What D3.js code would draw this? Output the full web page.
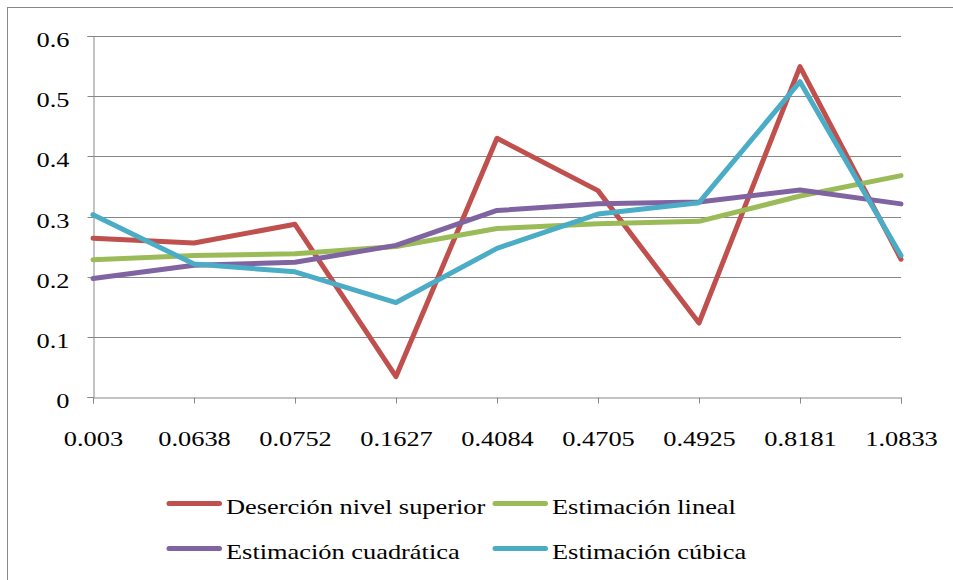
<!DOCTYPE html>
<html>
<head>
<meta charset="utf-8">
<script src="https://cdn.jsdelivr.net/npm/d3@7"></script>
</head>
<body style="margin:0">
<svg id="fig"></svg>
<script>
// categories on the x axis
const categories = ['0.003', '0.0638', '0.0752', '0.1627', '0.4084', '0.4705', '0.4925', '0.8181', '1.0833']

// series values
const desercion = [0.264, 0.256, 0.287, 0.034, 0.430, 0.343, 0.123, 0.549, 0.229]
const lineal = [0.228, 0.235, 0.238, 0.250, 0.280, 0.288, 0.292, 0.334, 0.368]
const cuadratica = [0.197, 0.219, 0.224, 0.252, 0.310, 0.321, 0.324, 0.344, 0.321]
const cubica = [0.303, 0.221, 0.208, 0.157, 0.247, 0.304, 0.323, 0.524, 0.235]

const seriesNames = ['Deserción nivel superior', 'Estimación lineal', 'Estimación cuadrática', 'Estimación cúbica']
const yTicks = [0, 0.1, 0.2, 0.3, 0.4, 0.5, 0.6]

const colors = ['#C0504D', '#9BBB59', '#8064A2', '#4BACC6']

const series = [desercion, lineal, cuadratica, cubica].map((values, i) => ({
    name: seriesNames[i],
    values: values
}))

const svgWidth = 953
const svgHeight = 580

// text set at 30px and scaled to ~22px, a bit wider than tall like the original
const baseSize = 30
const sx = 1.2 * 22 / baseSize
const sy = 22 / baseSize

const svg = d3.select('#fig')
    .attr('width', svgWidth)
    .attr('height', svgHeight)

// outer chart border
svg.append('rect')
    .attr('x', 7.5)
    .attr('y', 7.5)
    .attr('width', 960)
    .attr('height', 600)
    .attr('fill', 'white')
    .attr('stroke', '#888')
    .attr('stroke-width', 1)

// plot area
const plotLeft = 93, plotRight = 901, plotTop = 36, plotBottom = 397

const x = d3.scalePoint()
    .domain(categories)
    .range([plotLeft, plotRight])
    .padding(0)

const y = d3.scaleLinear()
    .domain([0, 0.6])
    .range([plotBottom, plotTop])

// horizontal gridlines
svg.append('g')
    .selectAll('line')
    .data(yTicks.filter(d => d > 0))
    .join('line')
    .attr('x1', plotLeft)
    .attr('x2', plotRight)
    .attr('y1', d => Math.round(y(d)) + 0.5)
    .attr('y2', d => Math.round(y(d)) + 0.5)
    .attr('stroke', '#878787')
    .attr('stroke-width', 1)

function styleText(sel) {
    sel.attr('font-size', baseSize)
        .style('font-family', '"Liberation Serif"')
        .attr('fill', '#000')
}

// y axis
const yAxis = svg.append('g')
    .attr('transform', `translate(${plotLeft + 0.5},0)`)
    .call(d3.axisLeft(y)
        .tickValues(yTicks)
        .tickFormat(d => d === 0 ? '0' : d3.format('.1f')(d))
        .tickSize(6))
yAxis.attr('font-family', null).attr('font-size', null)
yAxis.select('.domain').attr('stroke', '#878787')
yAxis.selectAll('.tick line').attr('stroke', '#878787')
yAxis.selectAll('.tick')
    .attr('transform', d => `translate(0,${Math.round(y(d)) + 0.5})`)
yAxis.selectAll('text')
    .call(styleText)
    .attr('x', 0)
    .attr('dy', 0)
    .attr('transform', `translate(-24,10) scale(${sx},${sy})`)

// x axis
const xAxis = svg.append('g')
    .attr('transform', `translate(0,${plotBottom + 0.5})`)
    .call(d3.axisBottom(x)
        .tickSize(6))
xAxis.attr('font-family', null).attr('font-size', null)
xAxis.select('.domain').attr('stroke', '#878787')
xAxis.selectAll('.tick line').attr('stroke', '#878787')
xAxis.selectAll('text')
    .call(styleText)
    .attr('y', 0)
    .attr('dy', 0)
    .attr('transform', `translate(0,48.5) scale(${sx},${sy})`)

// lines
const line = d3.line()
    .x((d, i) => x(categories[i]))
    .y(d => y(d))

svg.append('g')
    .selectAll('path')
    .data(series)
    .join('path')
    .attr('d', d => line(d.values))
    .attr('fill', 'none')
    .attr('stroke', (d, i) => colors[i])
    .attr('stroke-width', 5)
    .attr('stroke-linejoin', 'round')
    .attr('stroke-linecap', 'round')

// legend, two rows by two columns
const legendPos = [[166.5, 503.5], [492.5, 503.5], [166.5, 548.5], [492.5, 548.5]]
const legend = svg.append('g')
    .selectAll('g')
    .data(series)
    .join('g')
    .attr('transform', (d, i) => `translate(${legendPos[i][0]},${legendPos[i][1]})`)

legend.append('line')
    .attr('x1', 2.5)
    .attr('x2', 53)
    .attr('y1', 0)
    .attr('y2', 0)
    .attr('stroke', (d, i) => colors[i])
    .attr('stroke-width', 5)
    .attr('stroke-linecap', 'round')

legend.append('text')
    .attr('transform', `translate(59.5,10) scale(${sx},${sy})`)
    .call(styleText)
    .text(d => d.name)
</script>
</body>
</html>
